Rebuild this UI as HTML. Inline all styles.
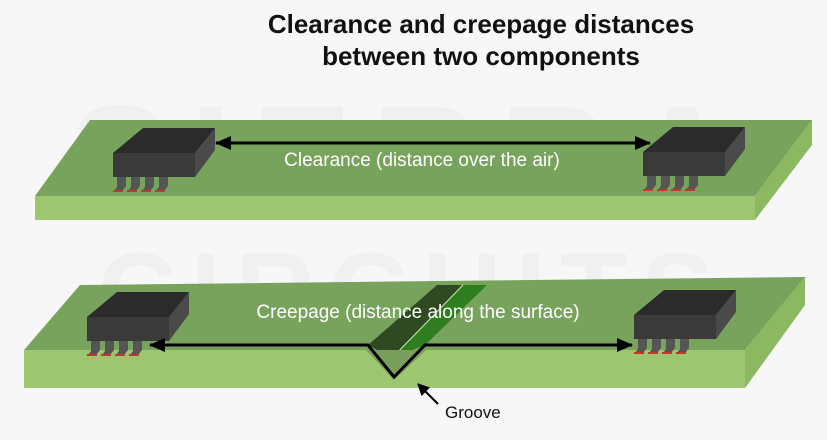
<!DOCTYPE html>
<html><head><meta charset="utf-8"><style>
html,body{margin:0;padding:0;background:#f7f7f7;}
svg{display:block;}
</style></head><body>
<svg width="827" height="440" viewBox="0 0 827 440" xmlns="http://www.w3.org/2000/svg" font-family="Liberation Sans, sans-serif">
<defs>
<marker id="ah" markerWidth="16" markerHeight="16" refX="15" refY="8" orient="auto-start-reverse" markerUnits="userSpaceOnUse">
<path d="M0,1 L16,8 L0,15 z" fill="#000"/>
</marker>
<marker id="ah2" markerWidth="12" markerHeight="12" refX="11" refY="6" orient="auto" markerUnits="userSpaceOnUse">
<path d="M0,0 L12,6 L0,12 z" fill="#000"/>
</marker>
<g id="chip">
<g fill="#555">
<polygon points="4,22 13,22 13,33 9,38 1,38 4,34"/>
<polygon points="18,22 27,22 27,33 23,38 15,38 18,34"/>
<polygon points="32,22 41,22 41,33 37,38 29,38 32,34"/>
<polygon points="46,22 55,22 55,33 51,38 43,38 46,34"/>
</g>
<g fill="#c0392b">
<rect x="0" y="37" width="10" height="2"/><rect x="14" y="37" width="10" height="2"/><rect x="28" y="37" width="10" height="2"/><rect x="42" y="37" width="10" height="2"/>
</g>
<polygon points="0,0 82,0 82,24 0,24" fill="#3a3a3a"/>
<polygon points="82,0 102,-25 102,-3 82,24" fill="#4a4a4a"/>
<polygon points="0,0 30,-25 102,-25 82,0" fill="#2b2b2b"/>
</g>
</defs>
<rect width="827" height="440" fill="#f7f7f7"/>
<text x="413" y="210" font-size="150" font-weight="bold" fill="#f0f0f0" text-anchor="middle" letter-spacing="20">SIERRA</text>
<text x="413" y="330" font-size="110" font-weight="bold" fill="#f0f0f0" text-anchor="middle" letter-spacing="14">CIRCUITS</text>
<text x="481" y="33" font-size="26" font-weight="bold" fill="#111" text-anchor="middle">Clearance and creepage distances</text>
<text x="481" y="65" font-size="26" font-weight="bold" fill="#111" text-anchor="middle">between two components</text>

<!-- top board -->
<polygon points="90,120 812,120 755,196 35,196" fill="#78a35c"/>
<polygon points="35,196 755,196 755,220 35,220" fill="#9cc66f"/>
<polygon points="812,120 812,145 755,220 755,196" fill="#8bb860"/>
<use href="#chip" x="113" y="153"/>
<use href="#chip" x="643" y="152"/>
<line x1="216" y1="143" x2="650" y2="143" stroke="#000" stroke-width="3" marker-end="url(#ah)" marker-start="url(#ah)"/>
<text x="422" y="166" font-size="19" fill="#fff" text-anchor="middle">Clearance (distance over the air)</text>

<!-- bottom board -->
<polygon points="80,285 805,277 745,350 24,350" fill="#78a35c"/>
<polygon points="24,350 745,350 745,388 24,388" fill="#9cc66f"/>
<polygon points="805,277 805,305 745,388 745,350" fill="#8bb860"/>
<polygon points="437,285 463,285 392,358 368,345" fill="#2f4a22"/>
<polygon points="463,285 487,285 425,345 392,358" fill="#2e7d1e"/>
<line x1="463" y1="285" x2="392" y2="358" stroke="#cfe8b0" stroke-width="1"/>
<polygon points="366,350 394,380 426,350" fill="#7a9f5d"/>
<use href="#chip" x="87" y="317"/>
<use href="#chip" x="634" y="315"/>
<polyline points="150,345 368,345 394,377 425,345 632,345" fill="none" stroke="#000" stroke-width="3" marker-end="url(#ah)" marker-start="url(#ah)"/>
<text x="418" y="318" font-size="19" fill="#fff" text-anchor="middle">Creepage (distance along the surface)</text>

<line x1="438" y1="404" x2="418" y2="384" stroke="#000" stroke-width="2" marker-end="url(#ah2)"/>
<text x="445" y="418" font-size="17" fill="#111">Groove</text>
</svg>
</body></html>
